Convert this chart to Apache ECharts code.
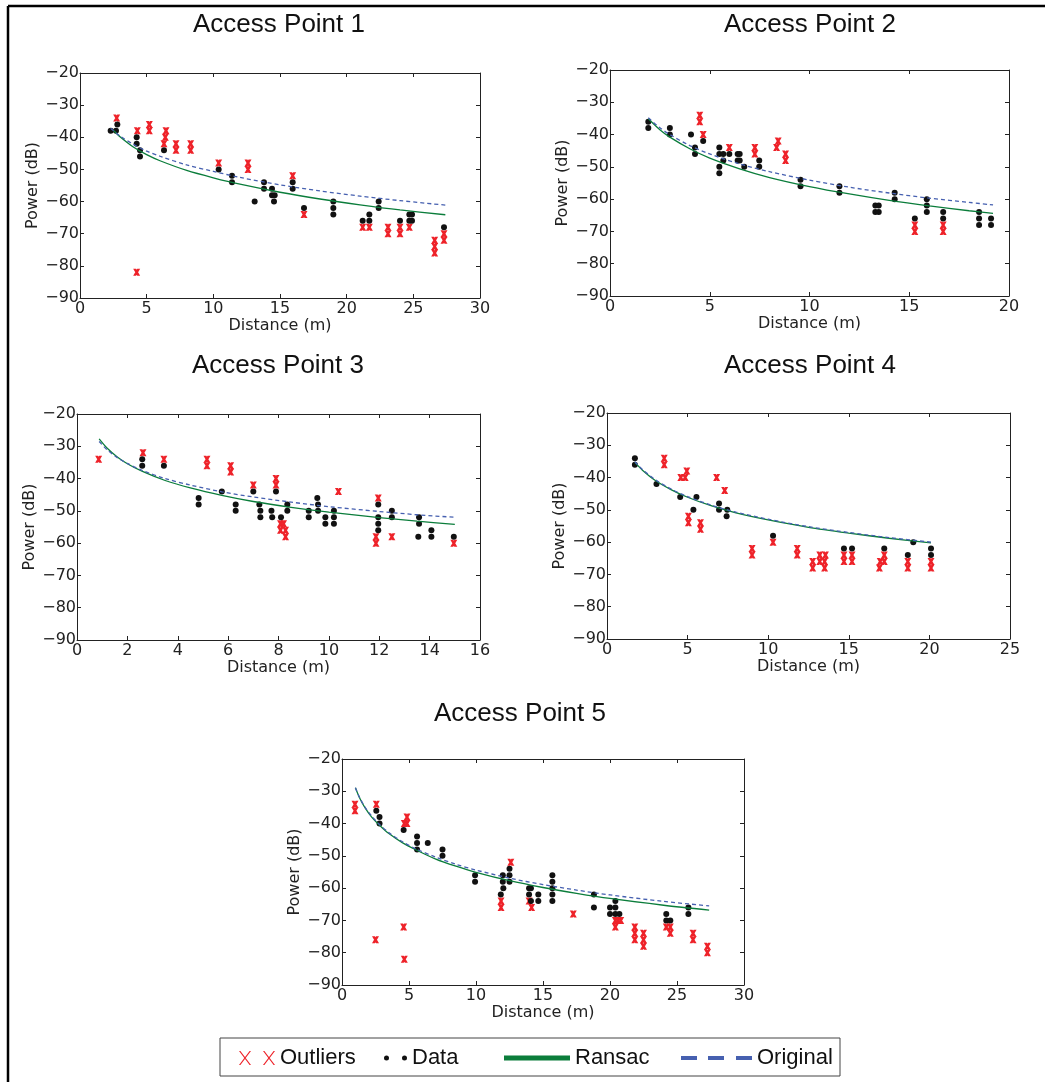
<!DOCTYPE html>
<html>
<head>
<meta charset="utf-8">
<script src="https://cdn.jsdelivr.net/npm/echarts@6/dist/echarts.min.js"></script>
<style>
  html, body { margin: 0; padding: 0; background: #fff; }
  #chart { width: 1045px; height: 1082px; }
</style>
</head>
<body>
<div id="chart"></div>
<script>
// tick labels
const yTicks = [-90, -80, -70, -60, -50, -40, -30, -20];
const xTicks1 = [0, 5, 10, 15, 20, 25, 30];
const xTicks2 = [0, 5, 10, 15, 20];
const xTicks3 = [0, 2, 4, 6, 8, 10, 12, 14, 16];
const xTicks4 = [0, 5, 10, 15, 20, 25];
const xTicks5 = [0, 5, 10, 15, 20, 25, 30];

// Access Point 1
const data1 = [[2.3,-38],[2.7,-38],[2.8,-36],[4.25,-40],[4.25,-42],[4.5,-44],[4.5,-46],[6.3,-44],[10.4,-50],[11.4,-52],[11.4,-54],[13.1,-60],[13.8,-54],[13.8,-56],[14.4,-56],[14.4,-58],[14.6,-58],[14.55,-60],[15.95,-54],[15.95,-56],[16.8,-62],[19,-60],[19,-62],[19,-64],[21.2,-66],[21.7,-66],[21.7,-64],[22.4,-60],[22.4,-62],[24,-66],[24.7,-64],[24.9,-64],[24.7,-66],[24.9,-66],[27.3,-68]];
const outliers1 = [[2.75,-34],[4.3,-38],[5.2,-36],[5.2,-38],[6.45,-38],[6.4,-40],[6.3,-42],[7.2,-42],[7.2,-44],[8.3,-42],[8.3,-44],[10.4,-48],[12.6,-48],[12.6,-50],[15.95,-52],[16.8,-64],[21.2,-68],[21.7,-68],[23.1,-68],[23.1,-70],[24,-68],[24,-70],[24.7,-68],[26.6,-72],[26.6,-74],[26.6,-76],[27.3,-70],[27.3,-72],[4.25,-82]];
const ransac1 = [[2.5,-37.8],[3,-39.8],[4,-43.0],[5,-45.4],[6,-47.3],[8,-50.3],[10,-52.6],[12,-54.6],[15,-57.1],[18,-59.2],[21,-61.0],[24,-62.6],[27.4,-64.1]];
const original1 = [[2.3,-37.2],[3,-39.6],[4,-42.2],[5,-44.3],[6,-45.9],[8,-48.6],[10,-50.6],[12,-52.5],[15,-54.8],[18,-56.7],[21,-58.3],[24,-59.7],[27.4,-61.1]];

// Access Point 2
const data2 = [[1.92,-36],[1.92,-38],[3.0,-38],[3.0,-40],[4.06,-40],[4.26,-44],[4.26,-46],[4.67,-42],[5.48,-46],[5.48,-50],[5.48,-52],[5.48,-44],[5.68,-46],[5.68,-48],[5.98,-46],[6.4,-46],[6.5,-46],[6.4,-48],[6.5,-48],[6.73,-50],[7.48,-48],[7.48,-50],[9.55,-54],[9.55,-56],[11.5,-56],[11.5,-58],[13.3,-62],[13.47,-62],[13.3,-64],[13.47,-64],[14.27,-58],[14.27,-60],[15.88,-60],[15.88,-62],[15.88,-64],[15.28,-66],[16.7,-64],[16.7,-66],[18.5,-64],[18.5,-66],[18.5,-68],[19.1,-66],[19.1,-68]];
const outliers2 = [[4.5,-34],[4.5,-36],[4.67,-40],[5.98,-44],[7.26,-44],[7.26,-46],[8.35,-44],[8.43,-42],[8.8,-46],[8.8,-48],[15.28,-68],[15.28,-70],[16.7,-68],[16.7,-70]];
const ransac2 = [[1.92,-35.1],[2.5,-38.5],[3,-40.8],[4,-44.4],[5,-47.3],[6.5,-50.6],[8,-53.3],[10,-56.1],[12,-58.4],[14,-60.4],[16,-62.1],[18,-63.6],[19.2,-64.4]];
const original2 = [[1.92,-34.8],[2.5,-37.9],[3,-40.0],[4,-43.4],[5,-46.0],[6.5,-49.1],[8,-51.5],[10,-54.1],[12,-56.3],[14,-58.1],[16,-59.7],[18,-61.0],[19.2,-61.8]];

// Access Point 3
const data3 = [[2.59,-34],[2.59,-36],[3.45,-36],[4.83,-46],[4.83,-48],[5.75,-44],[6.3,-48],[6.3,-50],[7.0,-44],[7.24,-48],[7.28,-50],[7.28,-52],[7.72,-50],[7.75,-52],[7.9,-44],[8.1,-52],[8.35,-48],[8.35,-50],[9.2,-50],[9.2,-52],[9.54,-46],[9.57,-48],[9.57,-50],[9.86,-52],[9.86,-54],[10.2,-50],[10.2,-52],[10.2,-54],[11.96,-48],[11.96,-52],[11.96,-54],[11.96,-56],[12.5,-50],[12.5,-52],[13.58,-52],[13.58,-54],[13.55,-58],[14.07,-56],[14.07,-58],[14.96,-58]];
const outliers3 = [[0.86,-34],[2.62,-32],[3.45,-34],[5.16,-34],[5.16,-36],[6.1,-36],[6.1,-38],[7.0,-42],[7.9,-40],[7.9,-42],[8.08,-54],[8.2,-54],[8.08,-56],[8.28,-56],[8.28,-58],[10.38,-44],[11.96,-46],[11.87,-58],[11.87,-60],[12.5,-58],[14.96,-60]];
const ransac3 = [[0.88,-27.7],[1.2,-30.6],[1.6,-33.3],[2,-35.4],[2.6,-37.8],[3.5,-40.6],[4.5,-42.9],[5.75,-45.2],[7,-47.1],[8.5,-48.9],[10,-50.4],[12,-52.1],[13.5,-53.2],[15,-54.2]];
const original3 = [[0.88,-28.5],[1.2,-31.1],[1.6,-33.5],[2,-35.3],[2.6,-37.5],[3.5,-40.0],[4.5,-42.0],[5.75,-44.1],[7,-45.7],[8.5,-47.3],[10,-48.7],[12,-50.2],[13.5,-51.2],[15,-52.0]];

// Access Point 4
const data4 = [[1.73,-34],[1.73,-36],[3.07,-42],[4.54,-46],[5.36,-50],[5.55,-46],[6.95,-48],[6.95,-50],[7.42,-52],[7.46,-50],[10.3,-58],[14.7,-62],[15.2,-62],[17.2,-62],[18.66,-64],[19.0,-60],[20.1,-62],[20.1,-64]];
const outliers4 = [[3.55,-34],[3.55,-36],[4.58,-40],[4.85,-40],[4.95,-38],[5.05,-52],[5.05,-54],[5.8,-54],[5.8,-56],[6.8,-40],[7.3,-44],[9.0,-62],[9.0,-64],[10.3,-60],[11.8,-62],[11.8,-64],[12.76,-66],[12.76,-68],[13.2,-64],[13.2,-66],[13.5,-66],[13.5,-68],[13.55,-64],[14.7,-64],[14.7,-66],[15.2,-64],[15.2,-66],[16.9,-68],[16.95,-66],[17.2,-64],[17.2,-66],[18.66,-66],[18.66,-68],[20.1,-66],[20.1,-68]];
const ransac4 = [[1.73,-35.3],[2.2,-37.7],[3,-40.9],[4,-43.8],[5,-46.1],[6.5,-48.8],[8,-50.9],[10,-53.1],[12.5,-55.4],[15,-57.2],[17.5,-58.8],[20.1,-60.2]];
const original4 = [[1.73,-35.1],[2.2,-37.5],[3,-40.7],[4,-43.6],[5,-45.9],[6.5,-48.6],[8,-50.7],[10,-52.9],[12.5,-55.2],[15,-57.0],[17.5,-58.6],[20.1,-60.0]];

// Access Point 5
const data5 = [[2.56,-36],[2.8,-38],[2.8,-40],[4.6,-42],[5.6,-44],[5.6,-46],[5.6,-48],[6.4,-46],[7.5,-48],[7.5,-50],[9.93,-56],[9.93,-58],[11.85,-62],[12.0,-58],[12.0,-56],[12.04,-60],[12.5,-54],[12.5,-56],[12.5,-58],[13.96,-60],[14.1,-60],[13.96,-62],[14.1,-64],[14.65,-62],[14.65,-64],[15.7,-56],[15.7,-58],[15.7,-60],[15.7,-62],[15.7,-64],[18.8,-62],[18.8,-66],[20.0,-66],[20.0,-68],[20.4,-64],[20.4,-66],[20.4,-68],[20.7,-68],[24.2,-68],[24.2,-70],[24.5,-70],[25.85,-66],[25.85,-68]];
const outliers5 = [[0.97,-34],[0.97,-36],[2.56,-34],[2.5,-76],[4.6,-72],[4.65,-82],[4.65,-40],[4.85,-40],[4.85,-38],[11.87,-64],[11.87,-66],[12.6,-52],[13.96,-64],[14.15,-66],[17.26,-68],[20.4,-70],[20.6,-70],[20.8,-70],[20.4,-72],[21.85,-72],[21.85,-74],[21.85,-76],[22.5,-74],[22.5,-76],[22.5,-78],[24.2,-72],[24.5,-72],[24.5,-74],[26.2,-74],[26.2,-76],[27.27,-78],[27.27,-80]];
const ransac5 = [[1,-28.9],[1.3,-31.9],[1.7,-35.0],[2.2,-37.9],[2.8,-40.5],[3.5,-43.1],[4.5,-45.9],[5.5,-48.1],[7,-51.0],[8.5,-53.2],[10,-55.1],[12.5,-57.7],[15,-59.8],[17.5,-61.6],[20,-63.2],[24,-65.3],[27.4,-66.8]];
const original5 = [[1,-28.9],[1.3,-31.8],[1.7,-34.8],[2.2,-37.6],[2.8,-40.3],[3.5,-42.8],[4.5,-45.6],[5.5,-47.8],[7,-50.4],[8.5,-52.6],[10,-54.4],[12.5,-56.9],[15,-58.9],[17.5,-60.6],[20,-62.1],[24,-64.1],[27.4,-65.5]];

const titles = ['Access Point 1', 'Access Point 2', 'Access Point 3', 'Access Point 4', 'Access Point 5'];

const RED = '#ee2229';
const BLACK = '#111111';
const GREEN = '#0b7d3b';
const BLUE = '#4660b0';
const AXIS = '#222222';

// layout of the five panels (pixels)
const layout = [
  {left: 80, top: 73, right: 480, bottom: 298, titleX: 279, titleY: 12},
  {left: 610, top: 70, right: 1009, bottom: 296, titleX: 810, titleY: 12},
  {left: 77, top: 414, right: 480, bottom: 640, titleX: 278, titleY: 353},
  {left: 607, top: 413, right: 1010, bottom: 639, titleX: 810, titleY: 353},
  {left: 342, top: 759, right: 744, bottom: 985, titleX: 520, titleY: 701}
];

const panels = [
  {xTicks: xTicks1, data: data1, outliers: outliers1, ransac: ransac1, original: original1},
  {xTicks: xTicks2, data: data2, outliers: outliers2, ransac: ransac2, original: original2},
  {xTicks: xTicks3, data: data3, outliers: outliers3, ransac: ransac3, original: original3},
  {xTicks: xTicks4, data: data4, outliers: outliers4, ransac: ransac4, original: original4},
  {xTicks: xTicks5, data: data5, outliers: outliers5, ransac: ransac5, original: original5}
];

function xShape(x0, w, h, d) {
  return 'M' + x0 + ',0 L' + (x0 + d) + ',0 L' + (x0 + w) + ',' + h + ' L' + (x0 + w - d) + ',' + h + ' Z ' +
    'M' + (x0 + w - d) + ',0 L' + (x0 + w) + ',0 L' + (x0 + d) + ',' + h + ' L' + x0 + ',' + h + ' Z';
}

// heavy x, the overlapping samples in the source look like filled blobs
const xMarker = 'path://' + xShape(0, 10, 10, 4.2);

const chart = echarts.init(document.getElementById('chart'));

const grid = [], xAxis = [], yAxis = [], series = [], title = [];

const tickFont = {fontFamily: 'DejaVu Sans', fontSize: 16, color: AXIS};
const minus = v => (v < 0 ? '\u2212' + Math.abs(v) : String(v));

panels.forEach((p, i) => {
  const L = layout[i];
  grid.push({left: L.left, top: L.top, width: L.right - L.left, height: L.bottom - L.top});
  title.push({
    text: titles[i], left: L.titleX, top: L.titleY, textAlign: 'center', padding: 0,
    textStyle: {fontFamily: 'Liberation Sans', fontSize: 26, fontWeight: 'normal', color: '#111'}
  });

  const xt = p.xTicks;
  const common = {
    type: 'value', gridIndex: i,
    axisLine: {show: true, onZero: false, lineStyle: {color: AXIS, width: 1}},
    axisTick: {show: true, inside: true, length: 4, lineStyle: {color: AXIS}},
    splitLine: {show: false}
  };
  xAxis.push(Object.assign({}, common, {
    position: 'bottom', min: xt[0], max: xt[xt.length - 1], interval: xt[1] - xt[0],
    axisLabel: Object.assign({margin: 3, showMinLabel: true, showMaxLabel: true}, tickFont),
    name: 'Distance (m)', nameLocation: 'middle', nameGap: 20,
    nameTextStyle: {fontFamily: 'DejaVu Sans', fontSize: 16, color: AXIS, verticalAlign: 'top'}
  }));
  xAxis.push(Object.assign({}, common, {
    position: 'top', min: xt[0], max: xt[xt.length - 1], interval: xt[1] - xt[0],
    axisLabel: {show: false}
  }));
  yAxis.push(Object.assign({}, common, {
    position: 'left', min: yTicks[0], max: yTicks[yTicks.length - 1], interval: yTicks[1] - yTicks[0],
    axisLabel: Object.assign({margin: 1, formatter: minus, showMinLabel: true, showMaxLabel: true}, tickFont),
    name: 'Power (dB)', nameLocation: 'middle', nameGap: 38, nameRotate: 90,
    nameTextStyle: {fontFamily: 'DejaVu Sans', fontSize: 16, color: AXIS}
  }));
  yAxis.push(Object.assign({}, common, {
    position: 'right', min: yTicks[0], max: yTicks[yTicks.length - 1], interval: yTicks[1] - yTicks[0],
    axisLabel: {show: false}
  }));

  const ax = {xAxisIndex: 2 * i, yAxisIndex: 2 * i};
  series.push(Object.assign({
    type: 'scatter', name: 'Outliers', data: p.outliers, symbol: xMarker, symbolSize: 7,
    itemStyle: {color: RED, opacity: 1}, z: 2
  }, ax));
  series.push(Object.assign({
    type: 'scatter', name: 'Data', data: p.data, symbol: 'circle', symbolSize: 6,
    itemStyle: {color: BLACK, opacity: 1}, z: 3
  }, ax));
  series.push(Object.assign({
    type: 'line', name: 'Ransac', data: p.ransac, smooth: 0.3,
    showSymbol: false, symbol: 'none', lineStyle: {color: GREEN, width: 1.3}, itemStyle: {color: GREEN}, z: 4
  }, ax));
  series.push(Object.assign({
    type: 'line', name: 'Original', data: p.original, smooth: 0.3,
    showSymbol: false, symbol: 'none', lineStyle: {color: BLUE, width: 1.3, type: [4, 3]}, itemStyle: {color: BLUE}, z: 5
  }, ax));
});

const legendText = {fontFamily: 'Liberation Sans', fontSize: 22, color: '#111'};
const legendTop = 1047;
const legend = [
  {
    left: 239, top: legendTop, itemWidth: 36, itemHeight: 14, textStyle: legendText, padding: 0,
    data: [{name: 'Outliers', icon: 'path://' + xShape(0, 12, 14, 1.4) + ' ' + xShape(24, 12, 14, 1.4),
      itemStyle: {color: RED, borderWidth: 0}}]
  },
  {
    left: 384, top: legendTop, itemWidth: 23, itemHeight: 5, textStyle: legendText, padding: 0,
    data: [{name: 'Data',
      icon: 'path://M0,2.5a2.5,2.5 0 1,0 5,0a2.5,2.5 0 1,0 -5,0Z M18,2.5a2.5,2.5 0 1,0 5,0a2.5,2.5 0 1,0 -5,0Z',
      itemStyle: {color: BLACK, borderWidth: 0}}]
  },
  {
    left: 504, top: legendTop, itemWidth: 66, itemHeight: 5, textStyle: legendText, padding: 0,
    data: [{name: 'Ransac', icon: 'rect', itemStyle: {color: GREEN, borderWidth: 0}}]
  },
  {
    left: 681, top: legendTop, itemWidth: 71, itemHeight: 4, textStyle: legendText, padding: 0,
    data: [{name: 'Original', icon: 'path://M0,0 H16 V4 H0 Z M27,0 H43 V4 H27 Z M55,0 H71 V4 H55 Z',
      itemStyle: {color: BLUE, borderWidth: 0}}]
  }
];

const option = {
  animation: false,
  backgroundColor: '#ffffff',
  title: title,
  grid: grid,
  xAxis: xAxis,
  yAxis: yAxis,
  legend: legend,
  series: series,
  graphic: [
    {type: 'line', shape: {x1: 8, y1: 6, x2: 1045, y2: 6}, style: {stroke: '#000', lineWidth: 2.5}, silent: true},
    {type: 'line', shape: {x1: 8, y1: 6, x2: 8, y2: 1082}, style: {stroke: '#000', lineWidth: 2.5}, silent: true},
    {type: 'rect', shape: {x: 220, y: 1038, width: 620, height: 38}, style: {fill: 'none', stroke: '#444', lineWidth: 1}, silent: true}
  ]
};

chart.setOption(option);
</script>
</body>
</html>
